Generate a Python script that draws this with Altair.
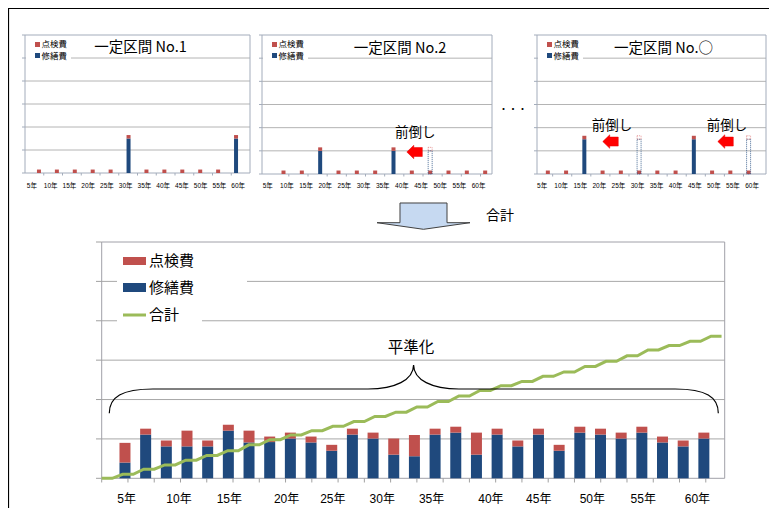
import altair as alt
import pandas as pd

OX, OY = 8, 8
W, H = 761, 500

RED = "#c0504d"
BLUE = "#1f497d"
GREEN = "#9bbb59"
GRID = "#b4b4b4"
FRAME = "#a3acbb"
JP = "Noto Sans CJK JP"
LAT = "Liberation Sans, Noto Sans CJK JP"

# ---------------- data ----------------
top_tick_labels = ["5年", "10年", "15年", "20年", "25年", "30年",
                   "35年", "40年", "45年", "50年", "55年", "60年"]
label_years = [5, 10, 15, 20, 25, 30, 35, 40, 45, 50, 55, 60]

# panel 1 : 一定区間 No.1
p1_years = [5, 10, 15, 20, 25, 30, 35, 40, 45, 50, 55, 60]
p1_inspection = [0.15, 0.15, 0.15, 0.15, 0.15, 0.15, 0.15, 0.15, 0.15, 0.15, 0.15, 0.15]
p1_repair = [0, 0, 0, 0, 0, 1.5, 0, 0, 0, 0, 0, 1.5]
p1_moved = [0, 0, 0, 0, 0, 0, 0, 0, 0, 0, 0, 0]

# panel 2 : 一定区間 No.2
p2_years = [8, 13, 18, 23, 28, 33, 38, 43, 48, 53, 58, 63]
p2_inspection = [0.15, 0.15, 0.15, 0.15, 0.15, 0.15, 0.15, 0.15, 0.15, 0.15, 0.15, 0.15]
p2_repair = [0, 0, 1.0, 0, 0, 0, 1.0, 0, 0, 0, 0, 0]
p2_moved = [0, 0, 0, 0, 0, 0, 0, 0, 1.0, 0, 0, 0]

# panel 3 : 一定区間 No.○
p3_years = [5, 10, 15, 20, 25, 30, 35, 40, 45, 50, 55, 60]
p3_inspection = [0.15, 0.15, 0.15, 0.15, 0.15, 0.15, 0.15, 0.15, 0.15, 0.15, 0.15, 0.15]
p3_repair = [0, 0, 1.5, 0, 0, 0, 0, 0, 1.5, 0, 0, 0]
p3_moved = [0, 0, 0, 0, 0, 1.5, 0, 0, 0, 0, 0, 1.5]

# bottom chart : 合計
b_years = [2, 4, 6, 8, 10, 12, 14, 16, 18, 20, 22, 24, 26, 28, 30,
           32, 34, 36, 38, 40, 42, 44, 46, 48, 50, 52, 54, 56, 58]
b_repair = [0.40, 1.11, 0.81, 0.81, 0.81, 1.21, 0.91, 0.92, 1.01, 0.91,
            0.70, 1.11, 1.01, 0.60, 0.56, 1.11, 1.16, 0.60, 1.11, 0.81,
            1.11, 0.70, 1.16, 1.11, 1.01, 1.16, 0.91, 0.81, 1.01]
b_inspection = [0.50, 0.15, 0.15, 0.40, 0.15, 0.15, 0.30, 0.14, 0.15, 0.15,
                0.15, 0.15, 0.15, 0.41, 0.54, 0.15, 0.15, 0.56, 0.15, 0.15,
                0.15, 0.15, 0.15, 0.15, 0.15, 0.15, 0.15, 0.15, 0.15]
total_levels = [0, 0.10, 0.23, 0.34, 0.46, 0.58, 0.70, 0.85, 0.98, 1.10,
                1.21, 1.32, 1.44, 1.57, 1.68, 1.81, 1.95, 2.09, 2.23, 2.35,
                2.46, 2.59, 2.70, 2.84, 2.97, 3.11, 3.26, 3.37, 3.48, 3.61]
b_labels = ["5年", "10年", "15年", "20年", "25年", "30年",
            "35年", "40年", "45年", "50年", "55年", "60年"]
b_label_pos = [2.38, 7.36, 12.15, 17.6, 22.0, 26.7, 31.4, 37.05, 41.6, 46.7, 51.55, 56.7]
b_ticks = [0, 2.5, 5, 7.5, 10, 12.5, 15, 17.5, 20, 22.5, 25, 27.5, 30, 32.5,
           35, 37.5, 40, 42.5, 45, 47.5, 50, 52.5, 55, 57.5]

ARROW = "M -1 0 L -0.1 -0.87 L -0.1 -0.58 L 1 -0.58 L 1 0.58 L -0.1 0.58 L -0.1 0.87 Z"

one = pd.DataFrame({"k": [0]})


def sx(dom, x0, x1):
    return alt.Scale(domain=dom, range=[x0 - OX, x1 - OX], nice=False, zero=False)


def sy(dom, y0, y1):
    return alt.Scale(domain=dom, range=[y0 - OY, y1 - OY], nice=False, zero=False)


def prect(x0, x1, y0, y1, **mk):
    return alt.Chart(one).mark_rect(**mk).encode(
        x=alt.value(x0 - OX), x2=alt.value(x1 - OX),
        y=alt.value(y0 - OY), y2=alt.value(y1 - OY))


def pline(x0, x1, y0, y1, **mk):
    return alt.Chart(one).mark_rule(**mk).encode(
        x=alt.value(x0 - OX), x2=alt.value(x1 - OX),
        y=alt.value(y0 - OY), y2=alt.value(y1 - OY))


def ptext(txt, x, y, size, align="center", font=JP, color="black", weight="normal"):
    return alt.Chart(pd.DataFrame({"t": [txt]})).mark_text(
        align=align, baseline="middle", fontSize=size, font=font,
        color=color, fontWeight=weight).encode(
        x=alt.value(x - OX), y=alt.value(y - OY), text="t:N")


def shape_path(cmds, cx, cy, s):
    parts = []
    for c, coords in cmds:
        if c == "Z":
            parts.append("Z")
            continue
        nums = []
        for i in range(0, len(coords), 2):
            nums.append(f"{(coords[i] - cx) / s:.4f} {(coords[i + 1] - cy) / s:.4f}")
        parts.append(c + " " + " ".join(nums))
    return " ".join(parts)


def pshape(cmds, cx, cy, s, **mk):
    path = shape_path(cmds, cx, cy, s)
    return alt.Chart(one).mark_point(shape=path, size=(2 * s) ** 2, opacity=1, **mk).encode(
        x=alt.value(cx - OX), y=alt.value(cy - OY))


def panel(x0, x1, y0, y1, dom, years, insp, repair, moved, lab_years, ldx, title, arrows):
    XS = sx(dom, x0, x1)
    YS = sy([0, 6], y0, y1)

    def X(f):
        return alt.X(f, type="quantitative", scale=XS, axis=None)

    def Y(f):
        return alt.Y(f, type="quantitative", scale=YS, axis=None)

    out = []
    grid = pd.DataFrame({"g": [1, 2, 3, 4, 5], "a": dom[0], "b": dom[1]})
    out.append(alt.Chart(grid).mark_rule(color=GRID, strokeWidth=1).encode(
        x=X("a"), x2=alt.X2("b"), y=Y("g")))
    fr = pd.DataFrame({"a": [dom[0]], "b": [dom[1]], "lo": [0], "hi": [6]})
    out.append(alt.Chart(fr).mark_rect(fillOpacity=0, stroke=FRAME, strokeWidth=1).encode(
        x=X("a"), x2=alt.X2("b"), y=Y("lo"), y2=alt.Y2("hi")))
    lt = pd.DataFrame({"g": [0, 1, 2, 3, 4, 5, 6]})
    out.append(alt.Chart(lt).mark_rule(color=FRAME).encode(
        x=alt.value(x0 - OX - 3), x2=alt.value(x0 - OX), y=Y("g")))
    tk = pd.DataFrame({"yr": [years[i] + 2.5 for i in range(len(years) - 1)]})
    out.append(alt.Chart(tk).mark_rule(color=FRAME).encode(
        x=X("yr"), y=alt.value(y0 - OY), y2=alt.value(y0 - OY + 2.5)))

    # legend
    out.append(prect(x0 + 1, x0 + 46, y1 + 1, y1 + 26, fill="white"))
    out.append(prect(x0 + 10, x0 + 15, y1 + 7, y1 + 12, fill=RED))
    out.append(prect(x0 + 10, x0 + 15, y1 + 18, y1 + 23, fill=BLUE))
    out.append(ptext("点検費", x0 + 16.5, y1 + 9.3, 8.5, align="left"))
    out.append(ptext("修繕費", x0 + 16.5, y1 + 20.7, 8.5, align="left"))
    out.append(ptext(title[0], title[1], title[2], 14.5))

    d = pd.DataFrame({"yr": years, "ins": insp, "rep": repair, "mov": moved})
    d["zero"] = 0.0
    d["top"] = d["rep"] + d["ins"]
    d["mtop"] = d["mov"] + d["ins"]
    rep = d[d["rep"] > 0]
    if len(rep):
        out.append(alt.Chart(rep).mark_bar(width=4, color=BLUE).encode(
            x=X("yr"), y=Y("zero"), y2=alt.Y2("rep")))
    out.append(alt.Chart(d).mark_bar(width=4, color=RED).encode(
        x=X("yr"), y=Y("rep"), y2=alt.Y2("top")))
    mv = d[d["mov"] > 0]
    if len(mv):
        out.append(alt.Chart(mv).mark_bar(width=4, fillOpacity=0, stroke=BLUE,
                                          strokeWidth=0.8, strokeDash=[1, 1]).encode(
            x=X("yr"), y=Y("zero"), y2=alt.Y2("mov")))
        out.append(alt.Chart(mv).mark_bar(width=4, fillOpacity=0, stroke="#e08080",
                                          strokeWidth=0.8, strokeDash=[1, 1]).encode(
            x=X("yr"), y=Y("mov"), y2=alt.Y2("mtop")))

    lab = pd.DataFrame({"yr": lab_years, "t": top_tick_labels})
    out.append(alt.Chart(lab).mark_text(fontSize=6.5, font=LAT, baseline="middle", dx=ldx).encode(
        x=X("yr"), y=alt.value(186 - OY), text="t:N"))

    for (ax, ay, tx, ty) in arrows:
        a = pd.DataFrame({"x": [ax], "y": [ay]})
        out.append(alt.Chart(a).mark_point(shape=ARROW, size=240, filled=True, fill="#ff0000",
                                           stroke="#e60000", strokeWidth=0.5, opacity=1).encode(
            x=X("x"), y=Y("y")))
        t = pd.DataFrame({"x": [tx], "y": [ty], "t": ["前倒し"]})
        out.append(alt.Chart(t).mark_text(fontSize=13.5, font=JP, baseline="middle").encode(
            x=X("x"), y=Y("y"), text="t:N"))
    return out


layers = []

# outer frame
layers.append(pline(8.5, 8.5, 8, 521, color="black", strokeWidth=1.2))
layers.append(pline(8, 777, 8.5, 8.5, color="black", strokeWidth=1.2))

layers += panel(25, 250, 173, 35, [2.5, 62.5], p1_years, p1_inspection, p1_repair, p1_moved,
                p1_years, -2.5, ("一定区間  No.1", 140.5, 47.5), [])
layers += panel(262, 492, 174, 35, [3.5, 63.5], p2_years, p2_inspection, p2_repair, p2_moved,
                label_years, 0, ("一定区間  No.2", 400, 49), [(43.3, 0.95, 43.5, 1.77)])
layers += panel(537, 766, 174, 35, [3.4, 63.4], p3_years, p3_inspection, p3_repair, p3_moved,
                p3_years, -1, ("一定区間  No.○", 663.5, 49),
                [(22.66, 1.40, 23.05, 2.07), (52.8, 1.40, 53.2, 2.07)])

layers.append(ptext("・・・", 513, 109.3, 9.5))

# block arrow + 合計
big_arrow = [("M", [400, 203]), ("L", [447, 203, 447, 222.7, 470, 222.7, 423.5, 229.3,
                                      377, 222.7, 400, 222.7]), ("Z", [])]
layers.append(pshape(big_arrow, 423.5, 216, 46.5, filled=True, fill="#c6d9f1",
                     stroke="#404040", strokeWidth=1))
layers.append(ptext("合計", 500, 216, 14))

# ---------------- bottom chart ----------------
XB = sx([0, 59.3], 101.7, 724.7)
YB = sy([0, 6], 478.3, 242)


def XBf(f):
    return alt.X(f, type="quantitative", scale=XB, axis=None)


def YBf(f):
    return alt.Y(f, type="quantitative", scale=YB, axis=None)


bgrid = pd.DataFrame({"g": [1, 2, 3, 4, 5], "a": 0, "b": 59.3})
layers.append(alt.Chart(bgrid).mark_rule(color="#a8a8a8", strokeWidth=1).encode(
    x=XBf("a"), x2=alt.X2("b"), y=YBf("g")))
layers.append(prect(117, 247, 250, 300, fill="white"))
layers.append(prect(117, 202, 300, 330, fill="white"))
bfr = pd.DataFrame({"a": [0], "b": [59.3], "lo": [0], "hi": [6]})
layers.append(alt.Chart(bfr).mark_rect(fillOpacity=0, stroke="#a0a0a8", strokeWidth=1).encode(
    x=XBf("a"), x2=alt.X2("b"), y=YBf("lo"), y2=alt.Y2("hi")))
blt = pd.DataFrame({"g": [0, 1, 2, 3, 4, 5, 6]})
layers.append(alt.Chart(blt).mark_rule(color="#a0a0a0").encode(
    x=alt.value(96 - OX), x2=alt.value(101.7 - OX), y=YBf("g")))
btk = pd.DataFrame({"t": b_ticks})
layers.append(alt.Chart(btk).mark_rule(color="#a0a0a0").encode(
    x=XBf("t"), y=alt.value(478.3 - OY), y2=alt.value(482.5 - OY)))

bd = pd.DataFrame({"t": b_years, "rep": b_repair, "ins": b_inspection})
bd["zero"] = 0.0
bd["top"] = bd["rep"] + bd["ins"]
layers.append(alt.Chart(bd).mark_bar(width=11, color=BLUE, xOffset=-2.4).encode(
    x=XBf("t"), y=YBf("zero"), y2=alt.Y2("rep")))
layers.append(alt.Chart(bd).mark_bar(width=11, color=RED, xOffset=-2.4).encode(
    x=XBf("t"), y=YBf("rep"), y2=alt.Y2("top")))

pts_t, pts_v = [], []
for i, lv in enumerate(total_levels):
    pts_t += [2 * i, 2 * i + 1]
    pts_v += [lv, lv]
ld = pd.DataFrame({"t": pts_t, "v": pts_v})
layers.append(alt.Chart(ld).mark_line(color=GREEN, strokeWidth=3).encode(
    x=XBf("t"), y=YBf("v")))

bl = pd.DataFrame({"t": b_label_pos, "lab": b_labels})
layers.append(alt.Chart(bl).mark_text(fontSize=12, font=LAT, baseline="middle").encode(
    x=XBf("t"), y=alt.value(498.7 - OY), text="lab:N"))

# legend
layers.append(prect(123, 146, 257, 265, fill=RED))
layers.append(prect(123, 146, 283, 292, fill=BLUE))
layers.append(pline(123, 146, 315, 315, color=GREEN, strokeWidth=3))
layers.append(ptext("点検費", 149, 261, 15, align="left"))
layers.append(ptext("修繕費", 149, 287.5, 15, align="left"))
layers.append(ptext("合計", 149, 315, 15, align="left"))

# brace + 平準化
brace = [("M", [109.3, 413.3]),
         ("C", [109.3, 397, 122, 389, 153, 389]),
         ("L", [368, 389]),
         ("C", [395, 389, 413.5, 380, 413.6, 365]),
         ("C", [413.7, 380, 432, 389, 459, 389]),
         ("L", [675, 389]),
         ("C", [706, 389, 718.3, 397, 718.3, 413.3])]
layers.append(pshape(brace, 413.8, 389, 305, filled=False, stroke="black", strokeWidth=1.2))
layers.append(ptext("平準化", 411, 348, 15.5))

chart = alt.layer(*layers).resolve_scale(x="independent", y="independent").properties(
    width=W, height=H, padding=0, autosize=alt.AutoSizeParams(type="none")
).configure_view(stroke=None)

chart.save("out.html", embed_options={"renderer": "svg", "actions": False})
